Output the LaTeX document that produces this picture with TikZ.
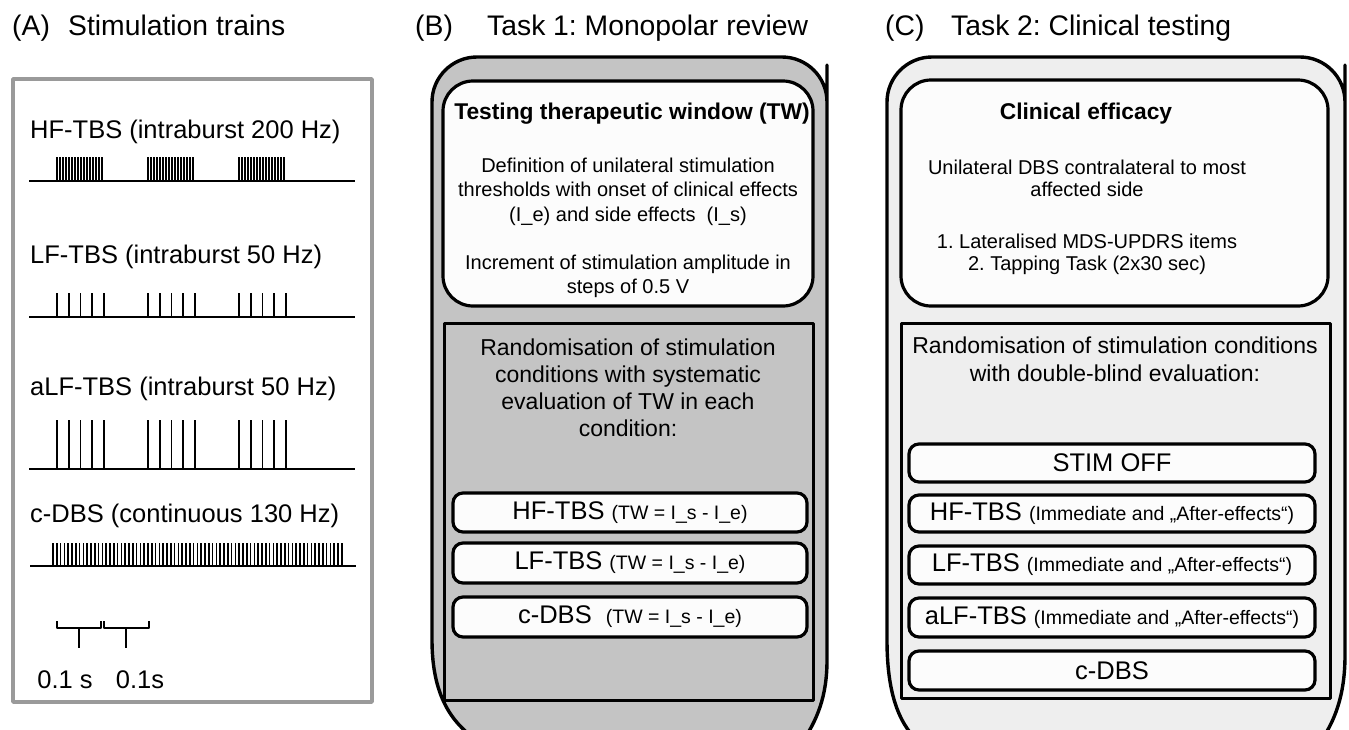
\documentclass[tikz,border=0pt]{standalone}
\usepackage{fontspec}
\setmainfont{Liberation Sans}
\frenchspacing
\definecolor{bgB}{HTML}{C4C4C4}
\definecolor{bgC}{HTML}{EEEEEE}
\definecolor{boxW}{HTML}{FCFCFC}
\definecolor{frameGray}{HTML}{9A9A9A}
\newcommand\bxbig{\fontsize{25.5}{30}\selectfont}
\newcommand\bxsmall{\fontsize{19.5}{24}\selectfont}
\tikzset{
  titletxt/.style={anchor=base west, inner sep=0pt, font=\fontsize{28.3}{34}\selectfont},
  lblA/.style={anchor=base west, inner sep=0pt, font=\fontsize{25.5}{30}\selectfont},
  frameA/.style={draw=frameGray, line width=3.6pt},
  baseln/.style={line width=2.8pt, line cap=butt},
  pulse/.style={line width=1.8pt},
  densepulse/.style={line width=2.2pt},
  thinpulse/.style={line width=1.5pt},
  scalebar/.style={line width=2.6pt},
  panelB/.style={draw=black, line width=3.4pt, fill=bgB},
  panelC/.style={draw=black, line width=3.4pt, fill=bgC},
  whitebox/.style={draw=black, line width=3.2pt, fill=boxW, rounded corners=30pt, inner sep=0pt},
  rectbox/.style={draw=black, line width=3pt, inner sep=0pt},
  smallbox/.style={draw=black, line width=3.2pt, fill=boxW, rounded corners=10pt, inner sep=0pt},
  boldtxt/.style={inner sep=0pt, font=\fontsize{22.8}{27}\selectfont\bfseries},
  txtB/.style={inner sep=0pt, align=center, font=\fontsize{20}{24.5}\selectfont},
  txtC/.style={inner sep=0pt, align=center, font=\fontsize{20}{22.5}\selectfont},
  txtR/.style={inner sep=0pt, align=center, font=\fontsize{23}{27}\selectfont},
}
\begin{document}
\begin{tikzpicture}[x=1pt,y=-1pt,line join=round]
\useasboundingbox (0,0) rectangle (1349,729);
\clip (0,0) rectangle (1349,729);

% ---------- titles ----------
\node[titletxt] (tA) at (12,35) {(A)};
\node[titletxt] (tA2) at (68,35) {Stimulation trains};
\node[titletxt] (tB) at (415,35) {(B)};
\node[titletxt] (tB2) at (487,35) {Task 1: Monopolar review};
\node[titletxt] (tC) at (885,35) {(C)};
\node[titletxt] (tC2) at (951,35) {Task 2: Clinical testing};

% ---------- panel A ----------
\draw[frameA] (13,79) rectangle (372,702);
\node[lblA] (lhf) at (30,138) {HF-TBS (intraburst 200 Hz)};
\node[lblA] (llf) at (30,263) {LF-TBS (intraburst 50 Hz)};
\node[lblA] (lalf) at (30,395) {aLF-TBS (intraburst 50 Hz)};
\node[lblA] (lcd) at (30,522) {c-DBS (continuous 130 Hz)};

% HF-TBS
\foreach \b in {57,148,239}{\foreach \i in {0,...,15}{\draw[densepulse] ({\b+3*\i},157) -- ({\b+3*\i},181);}}
\draw[baseln] (29,181) -- (355,181);
% LF-TBS
\foreach \b in {57,148,239}{\foreach \d in {0,11.7,23.4,35.1,46.8}{\draw[pulse] ({\b+\d},293) -- ({\b+\d},317);}}
\draw[baseln] (29,317) -- (355,317);
% aLF-TBS
\foreach \b in {57,148,239}{\foreach \d in {0,11.7,23.4,35.1,46.8}{\draw[pulse] ({\b+\d},420) -- ({\b+\d},469);}}
\draw[baseln] (29,469) -- (355,469);
% c-DBS
\foreach \i in {0,...,76}{\draw[thinpulse] ({53+3.8*\i},543) -- ({53+3.8*\i},566);}
\draw[baseln] (30,566) -- (356,566);
% scale bar
\draw[scalebar] (57,621) -- (57,628) -- (101,628) -- (101,621);
\draw[scalebar] (79,628) -- (79,648);
\draw[scalebar] (104,621) -- (104,628) -- (149,628) -- (149,621);
\draw[scalebar] (126,628) -- (126,648);
\node[lblA, anchor=base] (s1) at (65,688) {0.1 s};
\node[lblA, anchor=base] (s2) at (140,688) {0.1s};

% ---------- panel B ----------
\path[panelB] (432,640) [rounded corners=45pt] -- (432,57) -- (827,57) -- (827,110) [sharp corners] -- (827,660) .. controls (827,695) and (818,720) .. (800,745) -- (485,745) .. controls (455,728) and (432,700) .. (432,640) -- cycle;
\node[whitebox, minimum width=370pt, minimum height=225pt] (btop) at (628,193.5) {};
\node[boldtxt] (bt1) at (632,114) {Testing therapeutic window (TW)};
\node[txtB] (bt2) at (628,191.5) {Definition of unilateral stimulation\\thresholds with onset of clinical effects\\(I\_e) and side effects\ \ (I\_s)};
\node[txtB] (bt3) at (628,276.5) {Increment of stimulation amplitude in\\steps of 0.5 V};
\node[rectbox, minimum width=369pt, minimum height=377pt] (brand) at (628.5,511.5) {};
\node[txtR] (brt) at (628,388) {Randomisation of stimulation\\conditions with systematic\\evaluation of TW in each\\condition:};
\node[smallbox, minimum width=354pt, minimum height=39pt] (bhf) at (630,512.5) {\bxbig HF-TBS \bxsmall(TW = I\_s - I\_e)};
\node[smallbox, minimum width=354pt, minimum height=40pt] (blf) at (630,563) {\bxbig LF-TBS \bxsmall(TW = I\_s - I\_e)};
\node[smallbox, minimum width=354pt, minimum height=40pt] (bcd) at (630,617) {\bxbig c-DBS\ \ \bxsmall(TW = I\_s - I\_e)};

% ---------- panel C ----------
\path[panelC] (887,640) [rounded corners=45pt] -- (887,57) -- (1345,57) -- (1345,110) [sharp corners] -- (1345,655) .. controls (1345,695) and (1335,722) .. (1318,745) -- (922,745) .. controls (902,728) and (887,700) .. (887,640) -- cycle;
\node[whitebox, minimum width=427pt, minimum height=226pt] (ctop) at (1114.5,193) {};
\node[boldtxt] (ct1) at (1086,114) {Clinical efficacy};
\node[txtC] (ct2) at (1087,178.5) {Unilateral DBS contralateral to most\\affected side};
\node[txtC] (ct3) at (1087,254.5) {1. Lateralised MDS-UPDRS items\\2. Tapping Task (2x30 sec)};
\node[rectbox, minimum width=429pt, minimum height=375pt] (crand) at (1115.5,510.5) {};
\node[txtR, font=\fontsize{23}{28}\selectfont] (crt) at (1115,359) {Randomisation of stimulation conditions\\with double-blind evaluation:};
\node[smallbox, minimum width=406pt, minimum height=38pt] (coff) at (1112,463) {\bxbig STIM OFF};
\node[smallbox, minimum width=406pt, minimum height=37pt] (chf) at (1112,513.5) {\bxbig HF-TBS \bxsmall(Immediate and „After-effects“)};
\node[smallbox, minimum width=406pt, minimum height=38pt] (clf) at (1112,565) {\bxbig LF-TBS \bxsmall(Immediate and „After-effects“)};
\node[smallbox, minimum width=406pt, minimum height=39pt] (calf) at (1112,617.5) {\bxbig aLF-TBS \bxsmall(Immediate and „After-effects“)};
\node[smallbox, minimum width=406pt, minimum height=39pt] (ccd) at (1112,670.5) {\bxbig c-DBS};
\end{tikzpicture}
\end{document}
